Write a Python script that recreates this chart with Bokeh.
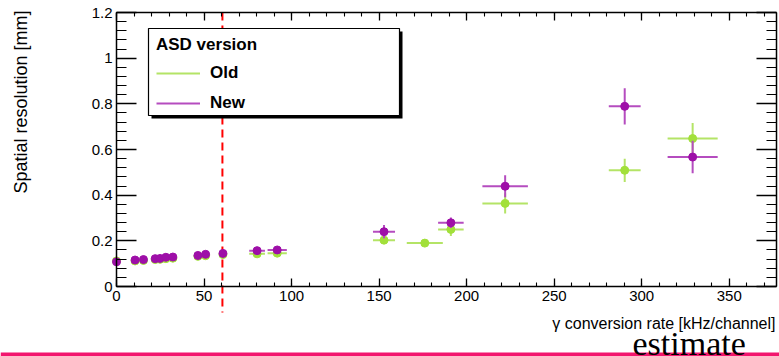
import math
from bokeh.plotting import figure
from bokeh.models import (LinearAxis, SingleIntervalTicker, FixedTicker, Label,
                          BoxAnnotation, Legend, LegendItem, ColumnDataSource, Range1d)
from bokeh.embed import file_html
from bokeh.resources import INLINE

# ---------------- data ----------------
old_rate = [0, 10.6, 15.4, 22.1, 24.9, 28.2, 32.2, 46.5, 50.9, 60.8, 80.3, 91.8,
            152.8, 176.1, 191.0, 222.0, 290.3, 329.1]
old_rate_err = [1.0, 1.0, 1.0, 1.0, 1.0, 1.0, 1.0, 1.5, 1.5, 1.5, 4.5, 5.5,
                6.3, 10.3, 7.3, 13.0, 9.1, 14.3]
old_res = [0.112, 0.112, 0.114, 0.118, 0.119, 0.122, 0.124, 0.132, 0.135, 0.140, 0.143, 0.146,
           0.203, 0.190, 0.250, 0.364, 0.509, 0.648]
old_res_err = [0.004, 0.003, 0.003, 0.003, 0.003, 0.003, 0.003, 0.004, 0.004, 0.004, 0.006, 0.006,
               0.010, 0.008, 0.029, 0.044, 0.051, 0.068]

new_rate = [0, 10.6, 15.4, 22.1, 24.9, 28.2, 32.2, 46.5, 50.9, 60.8, 80.3, 91.8,
            152.8, 191.0, 222.0, 290.3, 329.1]
new_rate_err = [1.0, 1.0, 1.0, 1.0, 1.0, 1.0, 1.0, 1.5, 1.5, 1.5, 4.5, 5.5,
                6.3, 7.3, 13.0, 9.1, 14.3]
new_res = [0.108, 0.116, 0.118, 0.122, 0.123, 0.128, 0.129, 0.136, 0.141, 0.145, 0.157, 0.160,
           0.240, 0.279, 0.439, 0.789, 0.567]
new_res_err = [0.003, 0.003, 0.003, 0.003, 0.003, 0.003, 0.003, 0.004, 0.004, 0.004, 0.010, 0.010,
               0.029, 0.023, 0.048, 0.079, 0.071]

series_labels = ["Old", "New"]
legend_title = "ASD version"
x_title = "\u03b3 conversion rate [kHz/channel]"
y_title = "Spatial resolution [mm]"
note_text = "estimate"

y_ticks = [0, 0.2, 0.4, 0.6, 0.8, 1, 1.2]
y_tick_labels = ["0", "0.2", "0.4", "0.6", "0.8", "1", "1.2"]
y_minor = [round(i * 0.04, 2) for i in range(31)]
threshold_rate = 60.5

X_MAX = 377
Y_MAX = 1.2

# ---------------- geometry (page pixels) ----------------
W, H = 779, 356
FX0, FX1 = 116, 776      # axis box left / right
FY0, FY1 = 286, 12       # axis box bottom / top
SX = (FX1 - FX0) / X_MAX
SY = (FY0 - FY1) / Y_MAX


def dx(px):
    return (px - FX0) / SX


def dy(py):
    return (FY0 - py) / SY


FONT = "Liberation Sans"

p = figure(width=W, height=H, x_range=Range1d(dx(0), dx(W)), y_range=Range1d(dy(H), dy(0)),
           output_backend="svg", toolbar_location=None, title=None,
           min_border_left=0, min_border_right=0, min_border_top=0, min_border_bottom=0,
           x_axis_type=None, y_axis_type=None)
p.xgrid.visible = False
p.ygrid.visible = False
p.outline_line_color = None
p.background_fill_color = "white"
p.border_fill_color = "white"

xa = LinearAxis(ticker=SingleIntervalTicker(interval=50, num_minor_ticks=5),
                fixed_location=0, bounds=(0, X_MAX))
top_ax = LinearAxis(ticker=SingleIntervalTicker(interval=50, num_minor_ticks=5),
                    fixed_location=Y_MAX, bounds=(0, X_MAX))
ya = LinearAxis(ticker=FixedTicker(ticks=y_ticks, minor_ticks=y_minor),
                fixed_location=0, bounds=(0, Y_MAX))
ya.major_label_overrides = dict(zip(y_ticks, y_tick_labels))
right_ax = LinearAxis(ticker=FixedTicker(ticks=y_ticks, minor_ticks=y_minor),
                      fixed_location=X_MAX, bounds=(0, Y_MAX))
p.add_layout(xa, "below")
p.add_layout(top_ax, "above")
p.add_layout(ya, "left")
p.add_layout(right_ax, "right")

for ax in (xa, top_ax):
    ax.major_tick_in = 8
    ax.major_tick_out = 0
    ax.minor_tick_in = 4
    ax.minor_tick_out = 0
for ax in (ya, right_ax):
    ax.major_tick_in = 20
    ax.major_tick_out = 0
    ax.minor_tick_in = 10
    ax.minor_tick_out = 0
for ax in (xa, ya, top_ax, right_ax):
    ax.axis_line_color = "black"
    ax.axis_line_width = 1.5
    ax.major_tick_line_color = "black"
    ax.minor_tick_line_color = "black"
    ax.major_tick_line_width = 1.3
    ax.minor_tick_line_width = 1.1
    ax.major_label_text_font = FONT
    ax.major_label_text_font_size = "15px"
    ax.major_label_text_color = "black"
for ax in (top_ax, right_ax):
    ax.major_label_text_color = None
xa.major_label_standoff = 4
ya.major_label_standoff = 4

# ---------------- data marks ----------------
OLD_MK, OLD_BAR = "#a2e03a", "#b4e466"
NEW_MK, NEW_BAR = "#9e0fa8", "#b54cbf"

src_old = ColumnDataSource(dict(
    x=old_rate, y=old_res,
    x0=[a - b for a, b in zip(old_rate, old_rate_err)],
    x1=[a + b for a, b in zip(old_rate, old_rate_err)],
    y0=[a - b for a, b in zip(old_res, old_res_err)],
    y1=[a + b for a, b in zip(old_res, old_res_err)]))
src_new = ColumnDataSource(dict(
    x=new_rate, y=new_res,
    x0=[a - b for a, b in zip(new_rate, new_rate_err)],
    x1=[a + b for a, b in zip(new_rate, new_rate_err)],
    y0=[a - b for a, b in zip(new_res, new_res_err)],
    y1=[a + b for a, b in zip(new_res, new_res_err)]))

# threshold line (reaches below the axis, as in the original)
p.segment(x0=[threshold_rate], y0=[Y_MAX], x1=[threshold_rate], y1=[dy(312)],
          line_color="#ff0000", line_width=2, line_dash="8 5")

old_h = p.segment(x0="x0", y0="y", x1="x1", y1="y", source=src_old, line_color=OLD_BAR, line_width=2)
p.segment(x0="x", y0="y0", x1="x", y1="y1", source=src_old, line_color=OLD_BAR, line_width=2)
p.scatter(x="x", y="y", source=src_old, size=8, marker="circle", fill_color=OLD_MK, line_color=OLD_MK)

new_h = p.segment(x0="x0", y0="y", x1="x1", y1="y", source=src_new, line_color=NEW_BAR, line_width=2)
p.segment(x0="x", y0="y0", x1="x", y1="y1", source=src_new, line_color=NEW_BAR, line_width=2)
p.scatter(x="x", y="y", source=src_new, size=8, marker="circle", fill_color=NEW_MK, line_color=NEW_MK)

# ---------------- legend ----------------
p.add_layout(BoxAnnotation(left=dx(151), right=dx(402), top=dy(31), bottom=dy(118),
                           fill_color="black", fill_alpha=1.0, line_color=None))
p.add_layout(BoxAnnotation(left=dx(148), right=dx(399), top=dy(28), bottom=dy(115),
                           fill_color="white", fill_alpha=1.0, line_color="black",
                           line_width=1.2, line_alpha=1.0))

legend = Legend(items=[LegendItem(label=series_labels[0], renderers=[old_h]),
                       LegendItem(label=series_labels[1], renderers=[new_h])],
                location=(156, 243),
                title=legend_title,
                title_text_font=FONT, title_text_font_style="bold", title_text_font_size="17px",
                title_text_color="black", title_standoff=8,
                label_text_font=FONT, label_text_font_style="bold", label_text_font_size="17px",
                label_text_color="black",
                label_standoff=10, label_height=20,
                glyph_width=44, glyph_height=20, spacing=10, padding=5, margin=0,
                border_line_color=None, background_fill_alpha=0.0)
p.add_layout(legend)

# ---------------- texts ----------------
p.add_layout(Label(x=dx(775), y=dy(322.5), text=x_title, text_align="right",
                   text_baseline="middle", text_font=FONT, text_font_size="16px",
                   text_color="black"))
p.add_layout(Label(x=dx(20), y=dy(10), text=y_title, angle=math.pi / 2, text_align="right",
                   text_baseline="middle", text_font=FONT, text_font_size="18px",
                   text_color="black"))
p.add_layout(Label(x=dx(632), y=dy(342.5), text=note_text, text_align="left",
                   text_baseline="alphabetic", text_font="Liberation Serif",
                   text_font_size="34px", text_color="black"))

# slide rule at the bottom
RULE_Y = dy(354)
p.segment(x0=[dx(0)], y0=[RULE_Y], x1=[dx(W)], y1=[RULE_Y], line_color="#f2166e", line_width=4)

open("out.html", "w").write(file_html(p, INLINE))
